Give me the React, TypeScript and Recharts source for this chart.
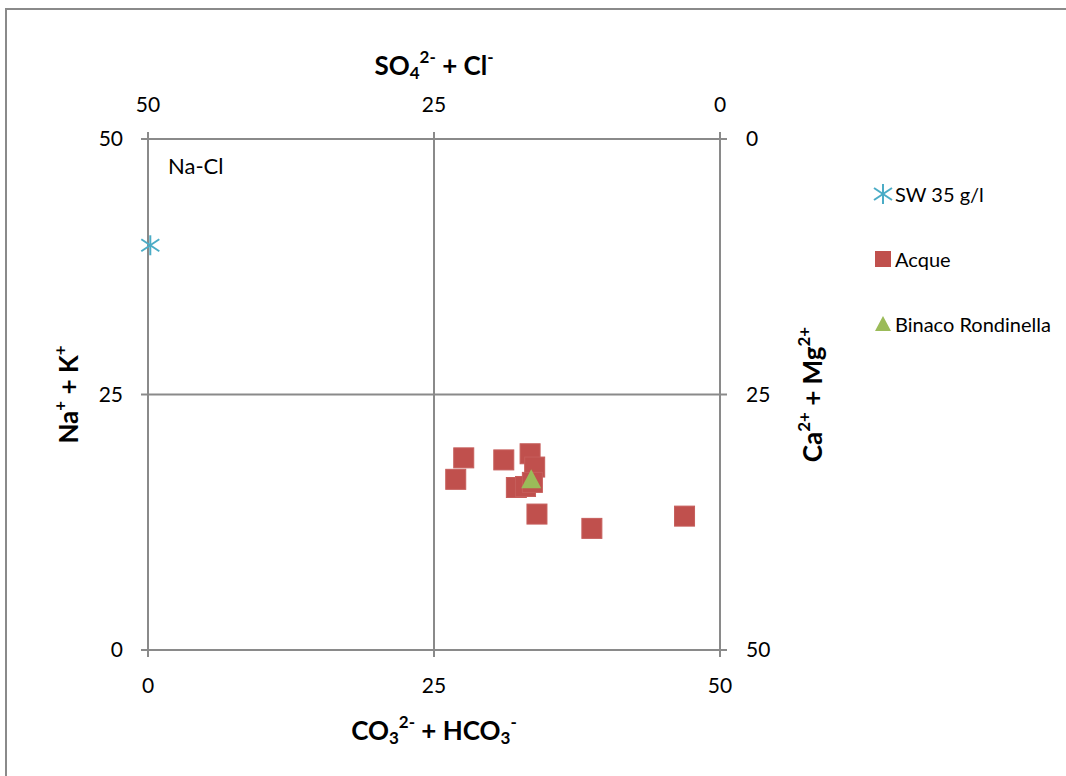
import { ScatterChart, Scatter, XAxis, YAxis, CartesianGrid, ReferenceDot } from 'recharts';

// Langelier-Ludwig style plot (meq %).
const AXIS_TICKS = [0, 25, 50];

const SW_X = [0.2];
const SW_Y = [39.6];

const ACQUE_X = [27.6, 26.9, 31.1, 33.4, 33.8, 32.2, 33.0, 33.6, 34.0, 38.8, 46.9];
const ACQUE_Y = [18.8, 16.7, 18.6, 19.2, 17.9, 15.9, 16.0, 16.4, 13.3, 11.9, 13.1];

const BINACO_X = [33.5];
const BINACO_Y = [16.6];

const LEGEND_NAMES = ['SW 35 g/l', 'Acque', 'Binaco Rondinella'];

const FONT = 'Lato, "Open Sans", sans-serif';
const GRID = '#8a8a8a';
const C_SW = '#4bacc6';
const C_ACQUE = '#c0504d';
const C_BINACO = '#9bbb59';

const zip = (xs: number[], ys: number[]) => xs.map((x, i) => ({ x, y: ys[i] }));

type Seg = { t: string; k?: 'sub' | 'sup' };

// rich text with sub/superscripts, dy is relative so track the current shift
function RichText({ x, y, segs, rotate }: { x: number; y: number; segs: Seg[]; rotate?: boolean }) {
  let cur = 0;
  return (
    <text
      x={x}
      y={y}
      textAnchor="middle"
      dominantBaseline="central"
      fontFamily={FONT}
      fontWeight="bold"
      fontSize={26}
      fill="#000"
      transform={rotate ? `rotate(-90 ${x} ${y})` : undefined}
    >
      {segs.map((s, i) => {
        const target = s.k === 'sub' ? 7 : s.k === 'sup' ? -9 : 0;
        const dy = target - cur;
        cur = target;
        return (
          <tspan key={i} dy={dy} fontSize={s.k ? 17 : 26}>
            {s.t}
          </tspan>
        );
      })}
    </text>
  );
}

const TITLE_TOP: Seg[] = [{ t: 'SO' }, { t: '4', k: 'sub' }, { t: '2-', k: 'sup' }, { t: ' + Cl' }, { t: '-', k: 'sup' }];
const TITLE_BOTTOM: Seg[] = [
  { t: 'CO' }, { t: '3', k: 'sub' }, { t: '2-', k: 'sup' }, { t: ' + HCO' }, { t: '3', k: 'sub' }, { t: '-', k: 'sup' },
];
const TITLE_LEFT: Seg[] = [{ t: 'Na' }, { t: '+', k: 'sup' }, { t: ' + K' }, { t: '+', k: 'sup' }];
const TITLE_RIGHT: Seg[] = [{ t: 'Ca' }, { t: '2+', k: 'sup' }, { t: ' + Mg' }, { t: '2+', k: 'sup' }];

const Square = (p: any) => (
  <rect x={p.cx - 10} y={p.cy - 10} width={20} height={20} fill={C_ACQUE} stroke="#c65e5b" strokeWidth={1} />
);

const Triangle = (p: any) => (
  <polygon points={`${p.cx},${p.cy - 11} ${p.cx + 10},${p.cy + 8} ${p.cx - 10},${p.cy + 8}`} fill={C_BINACO} />
);

const Star = (p: any) => (
  <g stroke={C_SW} strokeWidth={2}>
    <line x1={p.cx} y1={p.cy - 10} x2={p.cx} y2={p.cy + 10} />
    <line x1={p.cx - 9} y1={p.cy - 6} x2={p.cx + 9} y2={p.cy + 6} />
    <line x1={p.cx - 9} y1={p.cy + 6} x2={p.cx + 9} y2={p.cy - 6} />
  </g>
);

const NoMark = () => <g />;

const tickStyle = { fill: '#000', fontSize: 21, fontFamily: FONT };
const flip = (v: number) => String(50 - v);

function LegendMarker({ i }: { i: number }) {
  return (
    <svg width={20} height={20}>
      {i === 0 && <Star cx={10} cy={10} />}
      {i === 1 && <rect x={2} y={2} width={16} height={16} fill={C_ACQUE} />}
      {i === 2 && <polygon points="10,2 18,17 2,17" fill={C_BINACO} />}
    </svg>
  );
}

export default function App() {
  return (
    <div style={{ position: 'absolute', left: 0, top: 0, width: 1066, height: 776, overflow: 'hidden', background: '#fff' }}>
      <div
        style={{ position: 'absolute', left: 5, top: 8, width: 1100, height: 820, border: `2px solid ${GRID}`, boxSizing: 'border-box' }}
      />
      <div style={{ position: 'absolute', left: 0, top: 0 }}>
        <ScatterChart width={1066} height={776} margin={{ top: 39, right: 226, bottom: 26, left: 48 }}>
          <CartesianGrid xAxisId="bottom" yAxisId="left" stroke={GRID} strokeWidth={2} />
          <XAxis
            xAxisId="bottom"
            dataKey="x"
            type="number"
            domain={[0, 50]}
            ticks={AXIS_TICKS}
            height={100}
            tick={tickStyle}
            tickSize={7}
            tickMargin={21}
            axisLine={{ stroke: GRID, strokeWidth: 2 }}
            tickLine={{ stroke: GRID, strokeWidth: 2 }}
            label={{
              content: (p: any) => <RichText x={p.viewBox.x + p.viewBox.width / 2} y={p.viewBox.y + 80} segs={TITLE_BOTTOM} />,
            }}
          />
          <XAxis
            xAxisId="top"
            orientation="top"
            dataKey="x"
            type="number"
            domain={[0, 50]}
            ticks={AXIS_TICKS}
            tickFormatter={flip}
            height={100}
            tick={tickStyle}
            tickSize={7}
            tickMargin={20}
            axisLine={{ stroke: GRID, strokeWidth: 2 }}
            tickLine={{ stroke: GRID, strokeWidth: 2 }}
            label={{
              content: (p: any) => <RichText x={p.viewBox.x + p.viewBox.width / 2} y={p.viewBox.y + 26} segs={TITLE_TOP} />,
            }}
          />
          <YAxis
            yAxisId="left"
            dataKey="y"
            type="number"
            domain={[0, 50]}
            ticks={AXIS_TICKS}
            width={100}
            tick={tickStyle}
            tickSize={7}
            tickMargin={18}
            axisLine={{ stroke: GRID, strokeWidth: 2 }}
            tickLine={{ stroke: GRID, strokeWidth: 2 }}
            label={{
              content: (p: any) => (
                <RichText x={p.viewBox.x + 20} y={p.viewBox.y + p.viewBox.height / 2} segs={TITLE_LEFT} rotate />
              ),
            }}
          />
          <YAxis
            yAxisId="right"
            orientation="right"
            dataKey="y"
            type="number"
            domain={[0, 50]}
            ticks={AXIS_TICKS}
            tickFormatter={flip}
            width={120}
            tick={tickStyle}
            tickSize={7}
            tickMargin={19}
            axisLine={{ stroke: GRID, strokeWidth: 2 }}
            tickLine={{ stroke: GRID, strokeWidth: 2 }}
            label={{
              content: (p: any) => (
                <RichText x={p.viewBox.x + 92} y={p.viewBox.y + p.viewBox.height / 2} segs={TITLE_RIGHT} rotate />
              ),
            }}
          />
          <ReferenceDot
            xAxisId="bottom"
            yAxisId="left"
            x={0}
            y={50}
            r={0}
            label={{
              content: (p: any) => (
                <text x={p.viewBox.x + 20} y={p.viewBox.y + 26} fontFamily={FONT} fontSize={22} dominantBaseline="central">
                  Na-Cl
                </text>
              ),
            }}
          />
          {/* carrier series so the top/right (reversed-label) axes get drawn */}
          <Scatter xAxisId="top" yAxisId="right" data={zip(SW_X, SW_Y)} shape={NoMark} legendType="none" isAnimationActive={false} />
          <Scatter xAxisId="bottom" yAxisId="left" name={LEGEND_NAMES[0]} data={zip(SW_X, SW_Y)} shape={Star} isAnimationActive={false} />
          <Scatter xAxisId="bottom" yAxisId="left" name={LEGEND_NAMES[1]} data={zip(ACQUE_X, ACQUE_Y)} shape={Square} isAnimationActive={false} />
          <Scatter xAxisId="bottom" yAxisId="left" name={LEGEND_NAMES[2]} data={zip(BINACO_X, BINACO_Y)} shape={Triangle} isAnimationActive={false} />
        </ScatterChart>
      </div>
      {LEGEND_NAMES.map((name, i) => (
        <div
          key={name}
          style={{
            position: 'absolute',
            left: 873,
            top: 184 + i * 65,
            display: 'flex',
            alignItems: 'center',
            gap: 2,
            fontFamily: FONT,
            fontSize: 20,
            whiteSpace: 'nowrap',
            lineHeight: '20px',
          }}
        >
          <LegendMarker i={i} />
          <span>{name}</span>
        </div>
      ))}
    </div>
  );
}
